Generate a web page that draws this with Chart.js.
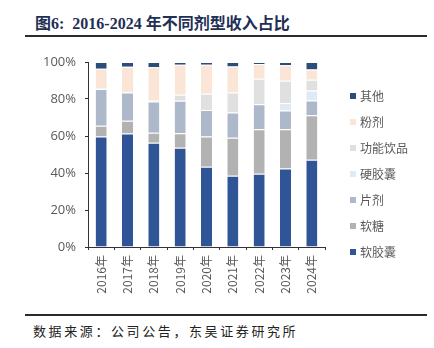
<!DOCTYPE html>
<html>
<head>
<meta charset="utf-8">
<script src="https://cdn.jsdelivr.net/npm/chart.js@4/dist/chart.umd.min.js"></script>
<style>
  html, body { margin: 0; padding: 0; background: #fff; }
  #page { position: relative; width: 434px; height: 348px; overflow: hidden; }
  .title {
    position: absolute; left: 35px; top: 10px;
    font: bold 16px "Liberation Serif", "Noto Sans CJK SC", serif;
    color: #1f2f55; white-space: nowrap;
  }
  .rule { position: absolute; left: 25px; width: 402px; background: #2b2b2b; }
  .source {
    position: absolute; left: 33px; top: 321px;
    font: 13px "Liberation Serif", "Noto Sans CJK SC", serif;
    letter-spacing: 2.6px; color: #222; white-space: nowrap;
  }
  #chartBox { position: absolute; left: 0; top: 40px; }
</style>
</head>
<body>
<div id="page">
  <div class="title">图6:&nbsp; 2016-2024 年不同剂型收入占比</div>
  <div class="rule" style="top:35px;height:2px;"></div>
  <div id="chartBox"><canvas id="mix" width="434" height="270"></canvas></div>
  <div class="rule" style="top:314px;height:2px;"></div>
  <div class="source">数据来源：公司公告，东吴证券研究所</div>
</div>
<script>
// Revenue share by dosage form, % of total
const years = ['2016年', '2017年', '2018年', '2019年', '2020年', '2021年', '2022年', '2023年', '2024年'];
const softCapsule = [59.7, 61.3, 56.4, 53.7, 43.4, 38.5, 39.6, 42.5, 47.2];
const gummy       = [5.9, 6.9, 5.4, 7.8, 16.3, 20.6, 24.1, 21.2, 24.0];
const tablet      = [19.8, 15.3, 16.8, 17.5, 14.3, 13.6, 13.5, 10.1, 8.0];
const hardCapsule = [0.5, 0, 0.4, 0, 0, 0, 0, 4.0, 5.4];
const drinks      = [0, 0, 0, 3.3, 8.8, 10.8, 13.8, 12.1, 5.8];
const powder      = [10.5, 13.9, 18.1, 16.2, 15.7, 14.1, 7.9, 8.3, 5.6];
const others      = [3.6, 2.6, 2.9, 1.5, 1.5, 2.4, 1.1, 1.8, 4.0];
const yTicks = [0, 20, 40, 60, 80, 100];

const labelGray = '#595959';
const axisDark = '#333333';

function series(label, data, color) {
  return {
    label: label,
    data: data,
    backgroundColor: color,
    borderColor: 'rgba(255,255,255,0.75)',
    borderWidth: { top: 1, right: 0, bottom: 0, left: 0 },
    borderSkipped: false,
    categoryPercentage: 1,
    barPercentage: 0.42
  };
}

// Legend drawn in the right margin, top item = last dataset
const sideLegend = {
  id: 'sideLegend',
  afterDraw(chart, args, opts) {
    const ctx = chart.ctx;
    const items = chart.data.datasets.slice().reverse();
    ctx.save();
    ctx.font = '12px "Noto Sans CJK SC", sans-serif';
    ctx.textBaseline = 'middle';
    items.forEach((ds, i) => {
      const y = opts.top + i * opts.step;
      ctx.fillStyle = ds.backgroundColor;
      ctx.fillRect(opts.x, y - 3, 6, 6);
      ctx.fillStyle = labelGray;
      ctx.fillText(ds.label, opts.x + 10, y + 0.5);
    });
    ctx.restore();
  }
};

new Chart(document.getElementById('mix'), {
  type: 'bar',
  data: {
    labels: years,
    datasets: [
      series('软胶囊', softCapsule, '#2f5597'),
      series('软糖', gummy, '#b2b2b2'),
      series('片剂', tablet, '#adb9ca'),
      series('硬胶囊', hardCapsule, '#deebf7'),
      series('功能饮品', drinks, '#e0e0e0'),
      series('粉剂', powder, '#fbe5d6'),
      series('其他', others, '#2c4c7c')
    ]
  },
  options: {
    responsive: false,
    animation: false,
    layout: { padding: { top: 22, right: 109, bottom: 0, left: 0 } },
    plugins: {
      legend: { display: false },
      tooltip: { enabled: false },
      sideLegend: { x: 350, top: 56, step: 26 }
    },
    scales: {
      x: {
        stacked: true,
        afterFit(scale) { scale.height = 63; },
        grid: { drawOnChartArea: false, color: axisDark, tickLength: 3 },
        border: { color: axisDark, width: 1 },
        ticks: {
          color: labelGray,
          font: { family: '"Noto Sans CJK SC", sans-serif', size: 12 },
          minRotation: 90, maxRotation: 90, padding: 5, autoSkip: false
        }
      },
      y: {
        stacked: true,
        min: 0, max: 100,
        afterFit(scale) { scale.width = 88; },
        afterBuildTicks(scale) { scale.ticks = yTicks.map(v => ({ value: v })); },
        grid: { drawOnChartArea: false, color: axisDark, tickLength: 3 },
        border: { color: axisDark, width: 1 },
        ticks: {
          color: labelGray,
          font: { family: '"Open Sans", sans-serif', size: 13 },
          padding: 9,
          callback: v => v + '%'
        }
      }
    }
  },
  plugins: [sideLegend]
});
</script>
</body>
</html>
